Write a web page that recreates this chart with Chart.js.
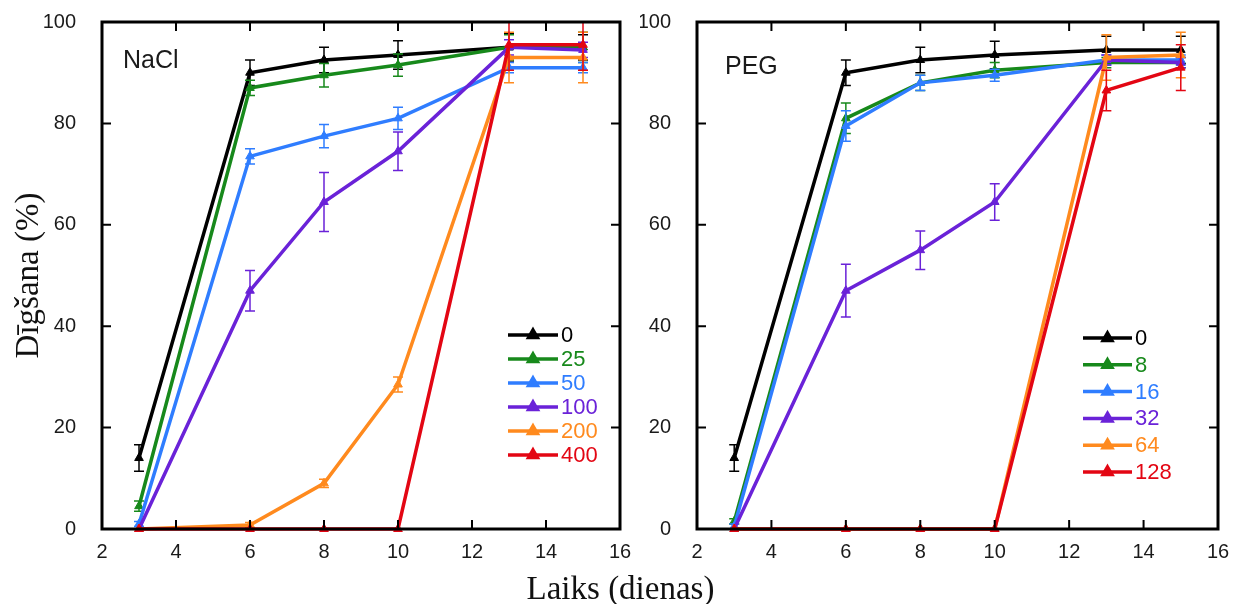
<!DOCTYPE html>
<html><head><meta charset="utf-8">
<script src="https://cdn.jsdelivr.net/npm/chart.js@4.4.1/dist/chart.umd.min.js"></script>
<style>
html,body{margin:0;padding:0;background:#fff;width:1241px;height:604px;overflow:hidden;}
#w1{position:absolute;left:0;top:-8px;width:640px;height:612px;}
#w2{position:absolute;left:640px;top:-8px;width:601px;height:612px;}
#xt{position:absolute;left:0;width:1241px;top:568px;text-align:center;font-family:'Liberation Serif',serif;font-size:33px;line-height:40px;color:#111;}
</style></head><body>
<div id="w1"><canvas id="c1"></canvas></div>
<div id="w2"><canvas id="c2"></canvas></div>
<div id="xt">Laiks (dienas)</div>
<script>
// ---- data ----
const days = [3, 6, 8, 10, 13, 15];
const xTicks = [2, 4, 6, 8, 10, 12, 14, 16];
const yTicks = [0, 20, 40, 60, 80, 100];
const yTitle = 'Dīgšana (%)';
const xTitle = 'Laiks (dienas)';

const naclLabel = 'NaCl';
const naclSeries = ['0', '25', '50', '100', '200', '400'];
const nacl0   = [14, 90, 92.5, 93.5, 95, 95];
const nacl25  = [4.5, 87, 89.5, 91.5, 95, 95];
const nacl50  = [1, 73.5, 77.5, 81, 91, 91];
const nacl100 = [0, 47, 64.5, 74.5, 95, 94.5];
const nacl200 = [0, 0.8, 9, 28.5, 93, 93];
const nacl400 = [0, 0, 0, 0, 95.5, 95.5];
const naclErr0   = [2.6, 2.5, 2.5, 2.8, 2.7, 2.5];
const naclErr25  = [1, 1.5, 2.3, 2.2, 2.5, 3];
const naclErr50  = [0.5, 1.5, 2.3, 2.2, 1, 1];
const naclErr100 = [0, 4, 5.8, 3.8, 1.5, 1.5];
const naclErr200 = [0, 0.5, 0.8, 1.5, 5, 5];
const naclErr400 = [0, 0, 0, 0, 5, 5];

const pegLabel = 'PEG';
const pegSeries = ['0', '8', '16', '32', '64', '128'];
const peg0   = [14, 90, 92.5, 93.5, 94.5, 94.5];
const peg8   = [1.5, 81, 88, 90.5, 92, 92];
const peg16  = [0.5, 79.5, 88, 89.5, 92.5, 92.5];
const peg32  = [0, 47, 55, 64.5, 92.5, 92];
const peg64  = [0, 0, 0, 0, 93, 93.5];
const peg128 = [0, 0, 0, 0, 86.5, 91];
const pegErr0   = [2.6, 2.5, 2.5, 2.7, 2.7, 2.7];
const pegErr8   = [0.5, 3, 1.5, 1.5, 1, 1];
const pegErr16  = [0.5, 3, 1.5, 1.2, 1, 1];
const pegErr32  = [0, 5.2, 3.8, 3.6, 1, 1];
const pegErr64  = [0, 0, 0, 0, 4.5, 4.5];
const pegErr128 = [0, 0, 0, 0, 4, 4.5];

const colors = ['#000000', '#17891b', '#2f7dff', '#6a22d8', '#ff8a1e', '#e30613'];

// ---- plugins ----
const errorBars = {
  id: 'errorBars',
  afterDatasetDraw(chart, args) {
    const ds = chart.data.datasets[args.index];
    if (!ds.errors) return;
    const {ctx, chartArea, scales: {x, y}} = chart;
    ctx.save();
    ctx.beginPath();
    ctx.rect(chartArea.left, chartArea.top, chartArea.right - chartArea.left, chartArea.bottom - chartArea.top);
    ctx.clip();
    ctx.strokeStyle = ds.borderColor;
    ctx.lineWidth = 1.5;
    ctx.beginPath();
    ds.data.forEach((p, j) => {
      const e = ds.errors[j];
      if (!e) return;
      const px = x.getPixelForValue(p.x);
      const y1 = y.getPixelForValue(p.y + e);
      const y2 = y.getPixelForValue(p.y - e);
      ctx.moveTo(px, y1); ctx.lineTo(px, y2);
      ctx.moveTo(px - 5, y1); ctx.lineTo(px + 5, y1);
      ctx.moveTo(px - 5, y2); ctx.lineTo(px + 5, y2);
    });
    ctx.stroke();
    ctx.restore();
  }
};

const frame = {
  id: 'frame',
  afterDatasetsDraw(chart) {
    const {ctx, chartArea: {left, right, top, bottom}, scales: {x, y}} = chart;
    ctx.save();
    ctx.strokeStyle = '#000';
    ctx.lineWidth = 3;
    ctx.strokeRect(left, top, right - left, bottom - top);
    ctx.lineWidth = 2;
    ctx.beginPath();
    x.ticks.forEach(t => {
      if (t.value <= x.min || t.value >= x.max) return;
      const px = x.getPixelForValue(t.value);
      ctx.moveTo(px, bottom); ctx.lineTo(px, bottom - 9);
      ctx.moveTo(px, top); ctx.lineTo(px, top + 9);
    });
    y.ticks.forEach(t => {
      if (t.value <= y.min || t.value >= y.max) return;
      const py = y.getPixelForValue(t.value);
      ctx.moveTo(left, py); ctx.lineTo(left + 9, py);
      ctx.moveTo(right, py); ctx.lineTo(right - 9, py);
    });
    ctx.stroke();
    ctx.restore();
  }
};

const inLegend = {
  id: 'inLegend',
  afterDatasetsDraw(chart, args, opts) {
    const {ctx} = chart;
    ctx.save();
    ctx.font = opts.fontSize + 'px "Liberation Sans", Arial, sans-serif';
    ctx.textBaseline = 'middle';
    ctx.textAlign = 'left';
    chart.data.datasets.forEach((ds, i) => {
      const yy = opts.y + i * opts.spacing;
      ctx.strokeStyle = ds.borderColor;
      ctx.lineWidth = 3.5;
      ctx.beginPath();
      ctx.moveTo(opts.x, yy); ctx.lineTo(opts.x + opts.lineLen, yy);
      ctx.stroke();
      ctx.fillStyle = ds.borderColor;
      Chart.helpers.drawPoint(ctx, {pointStyle: 'triangle', radius: 5, borderWidth: 1}, opts.x + opts.lineLen / 2, yy);
      ctx.fillStyle = ds.borderColor;
      ctx.fillText(ds.label, opts.x + opts.lineLen + 3, yy + 1);
    });
    ctx.restore();
  }
};

const panelText = {
  id: 'panelText',
  afterDatasetsDraw(chart, args, opts) {
    const {ctx} = chart;
    ctx.save();
    ctx.font = opts.fontSize + 'px "Liberation Sans", Arial, sans-serif';
    ctx.fillStyle = '#1a1a1a';
    ctx.textBaseline = 'middle';
    ctx.textAlign = 'left';
    ctx.fillText(opts.text, opts.x, opts.y);
    ctx.restore();
  }
};

// canvas is shifted up by this many pixels (see CSS)
const shift = 8;

function makeChart(id, panel, labels, values, errors, cfg) {
  const n = labels.length;
  const datasets = labels.map((lab, i) => ({
    label: lab,
    data: days.map((d, j) => ({x: d, y: values[i][j]})),
    errors: errors[i],
    borderColor: colors[i],
    backgroundColor: colors[i],
    pointBackgroundColor: colors[i],
    pointBorderColor: colors[i],
    borderWidth: 3.5,
    pointStyle: 'triangle',
    pointRadius: 5,
    pointHoverRadius: 5,
    pointBorderWidth: 1,
    tension: 0,
    order: n - i,
    clip: 6
  }));
  const tickFont = {family: 'Liberation Sans', size: 20};
  const leg = Object.assign({}, cfg.legend, {y: cfg.legend.y + shift});
  return new Chart(document.getElementById(id), {
    type: 'line',
    data: {datasets},
    plugins: [errorBars, frame, inLegend, panelText],
    options: {
      responsive: true,
      maintainAspectRatio: false,
      animation: false,
      events: [],
      layout: {padding: {top: 14, right: cfg.padRight, left: 0, bottom: 0}},
      plugins: {
        legend: {display: false},
        tooltip: {enabled: false},
        inLegend: leg,
        panelText: {text: panel, x: cfg.panelX, y: cfg.panelY + shift, fontSize: 25}
      },
      scales: {
        x: {
          type: 'linear', min: 2, max: 16,
          afterBuildTicks: s => { s.ticks = xTicks.map(v => ({value: v})); },
          ticks: {color: '#1a1a1a', font: tickFont, padding: 3, maxRotation: 0, autoSkip: false},
          grid: {display: false},
          border: {display: false},
          afterFit: s => { s.height = 75; }
        },
        y: {
          type: 'linear', min: 0, max: 100,
          afterBuildTicks: s => { s.ticks = yTicks.map(v => ({value: v})); },
          ticks: {color: '#1a1a1a', font: tickFont, padding: 18},
          grid: {display: false},
          border: {display: false},
          title: {display: cfg.showYTitle, text: yTitle, color: '#111',
                  font: {family: 'Liberation Serif', size: 33}, padding: {top: 10, bottom: 0}},
          afterFit: s => { s.width = cfg.yWidth; }
        }
      }
    }
  });
}

makeChart('c1', naclLabel, naclSeries,
  [nacl0, nacl25, nacl50, nacl100, nacl200, nacl400],
  [naclErr0, naclErr25, naclErr50, naclErr100, naclErr200, naclErr400],
  {padRight: 20, yWidth: 102, showYTitle: true, panelX: 123, panelY: 61,
   legend: {x: 508, y: 335, spacing: 24, lineLen: 50, fontSize: 22}});

makeChart('c2', pegLabel, pegSeries,
  [peg0, peg8, peg16, peg32, peg64, peg128],
  [pegErr0, pegErr8, pegErr16, pegErr32, pegErr64, pegErr128],
  {padRight: 23, yWidth: 57, showYTitle: false, panelX: 85, panelY: 67,
   legend: {x: 443, y: 338, spacing: 26.8, lineLen: 49, fontSize: 22}});
</script>
</body></html>
